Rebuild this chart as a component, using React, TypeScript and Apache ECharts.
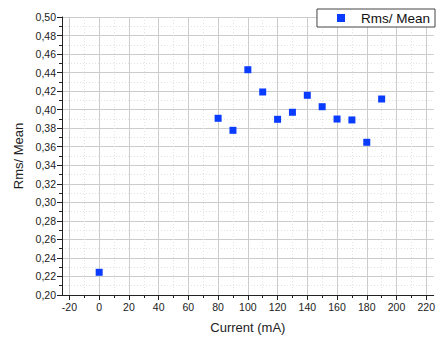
import React, { useEffect, useRef } from "react";
import * as echarts from "echarts";

const currents = [0, 80, 90, 100, 110, 120, 130, 140, 150, 160, 170, 180, 190];
const rmsMean = [0.2245, 0.3907, 0.3777, 0.4431, 0.4191, 0.3896, 0.3972, 0.4155, 0.4032, 0.3899, 0.3889, 0.3648, 0.4115];
const xMajorTicks = [-20, 0, 20, 40, 60, 80, 100, 120, 140, 160, 180, 200, 220];
const xMinorTicks = [-10, 10, 30, 50, 70, 90, 110, 130, 150, 170, 190, 210];
const seriesName = "Rms/ Mean";

export default function App() {
  const ref = useRef<HTMLDivElement>(null);
  useEffect(() => {
    if (!ref.current) return;
    const chart = echarts.init(ref.current, undefined, { renderer: "svg" });
    const font = "'Liberation Sans', Arial, sans-serif";
    chart.setOption({
      animation: false,
      backgroundColor: "#ffffff",
      textStyle: { fontFamily: font },
      grid: { left: 62, top: 17, right: 1, bottom: 44, containLabel: false },
      legend: {
        show: true,
        right: 3,
        top: 9,
        orient: "vertical",
        backgroundColor: "#ffffff",
        borderColor: "#444",
        borderWidth: 1,
        padding: [2, 5, 2, 20],
        itemWidth: 8,
        itemHeight: 8,
        icon: "rect",
        textStyle: { fontSize: 13.5, color: "#111", fontFamily: font, padding: [0, 0, 0, 11] },
        data: [seriesName],
      },
      xAxis: [
        {
          type: "value",
          min: -25,
          max: 225,
          position: "bottom",
          name: "Current (mA)",
          nameLocation: "middle",
          nameGap: 26,
          nameTextStyle: { fontSize: 13, color: "#222", fontFamily: font },
          axisLine: { show: true, onZero: false, lineStyle: { color: "#222", width: 1 } },
          axisTick: { show: true, length: 5, customValues: xMajorTicks, lineStyle: { color: "#222" } },
          axisLabel: { customValues: xMajorTicks, fontSize: 10.5, color: "#222", margin: 6, fontFamily: font },
          splitLine: { show: true, lineStyle: { color: "#cccccc", width: 1 } },
        },
        {
          type: "value",
          min: -25,
          max: 225,
          position: "bottom",
          axisLine: { show: false, onZero: false },
          axisTick: { show: true, length: 3, customValues: xMinorTicks, lineStyle: { color: "#222" } },
          axisLabel: { show: false },
          splitLine: { show: true, lineStyle: { color: "#e3e3e3", width: 1, type: [1, 2] } },
        },
      ],
      yAxis: {
        type: "value",
        min: 0.2,
        max: 0.5,
        interval: 0.02,
        name: "Rms/ Mean",
        nameLocation: "middle",
        nameGap: 37,
        nameTextStyle: { fontSize: 13, color: "#222", fontFamily: font },
        axisLine: { show: true, onZero: false, lineStyle: { color: "#222", width: 1 } },
        axisTick: { show: true, length: 5, lineStyle: { color: "#222" } },
        minorTick: { show: true, splitNumber: 2, length: 3, lineStyle: { color: "#222" } },
        axisLabel: {
          fontSize: 10.5,
          color: "#222",
          margin: 6,
          fontFamily: font,
          formatter: (v: number) => v.toFixed(2).replace(".", ","),
        },
        splitLine: { show: true, lineStyle: { color: "#cccccc", width: 1 } },
        minorSplitLine: { show: true, lineStyle: { color: "#e3e3e3", width: 1, type: [1, 2] } },
      },
      series: [
        {
          name: seriesName,
          type: "scatter",
          xAxisIndex: 0,
          symbol: "rect",
          symbolSize: 7,
          itemStyle: { color: "#0a3cff", opacity: 1 },
          data: currents.map((c, i) => [c, rmsMean[i]]),
        },
      ],
    });
    return () => chart.dispose();
  }, []);
  return <div ref={ref} style={{ width: 438, height: 339, position: "fixed", left: 0, top: 0 }} />;
}
